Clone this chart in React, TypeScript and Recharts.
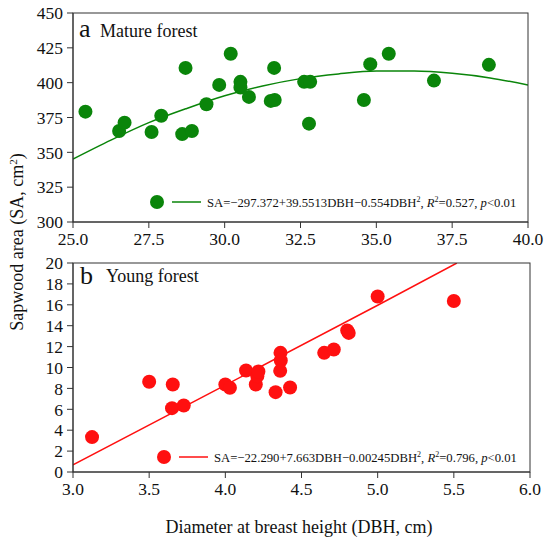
import React from 'react';
import { ComposedChart, Scatter, Line, XAxis, YAxis } from 'recharts';

// Mature forest (panel a)
const matureDBH = [25.41, 26.52, 26.70, 27.59, 27.91, 28.60, 28.71, 28.92, 29.40, 29.82, 30.20, 30.52, 30.52, 30.80, 31.52, 31.65, 31.63, 32.62, 32.82, 32.78, 34.59, 34.80, 35.41, 36.90, 38.71];
const matureSA = [379.2, 365.3, 371.3, 364.6, 376.3, 363.1, 410.6, 365.3, 384.5, 398.4, 420.7, 400.6, 396.5, 389.8, 386.9, 387.6, 410.6, 400.6, 400.6, 370.6, 387.6, 413.3, 420.7, 401.5, 412.8];
const matureFitDBH = [25, 26.25, 27.5, 28.75, 30, 31.25, 32.5, 33.75, 35, 36.25, 37.5, 38.75, 40];
const matureFitSA = [345.2, 358.8, 371.3, 381.5, 390.6, 397.6, 402.9, 406.3, 408.3, 408.3, 406.7, 403.4, 398.3];
const matureXTicks = [25, 27.5, 30, 32.5, 35, 37.5, 40];
const matureYTicks = [300, 325, 350, 375, 400, 425, 450];

// Young forest (panel b)
const youngDBH = [3.125, 3.50, 3.655, 3.65, 3.727, 4.00, 4.03, 4.136, 4.20, 4.21, 4.217, 4.33, 4.362, 4.364, 4.36, 4.425, 4.649, 4.712, 4.80, 4.81, 5.00, 5.50];
const youngSA = [3.34, 8.63, 8.38, 6.11, 6.37, 8.38, 8.06, 9.71, 8.38, 9.17, 9.62, 7.64, 11.4, 10.67, 9.68, 8.09, 11.4, 11.72, 13.54, 13.31, 16.8, 16.37];
const youngFitDBH = [3, 4, 5, 5.52];
const youngFitSA = [0.68, 8.32, 15.96, 20.0];
const youngXTicks = [3, 3.5, 4, 4.5, 5, 5.5, 6];
const youngYTicks = [0, 2, 4, 6, 8, 10, 12, 14, 16, 18, 20];

const GREEN = '#0a850a';
const RED = '#ff1010';
const AXIS = '#333333';
const SERIF = '"Liberation Serif", "Times New Roman", serif';

const maturePts = matureDBH.map((x, i) => ({ x, y: matureSA[i] }));
const matureFit = matureFitDBH.map((x, i) => ({ x, y: matureFitSA[i] }));
const youngPts = youngDBH.map((x, i) => ({ x, y: youngSA[i] }));
const youngFit = youngFitDBH.map((x, i) => ({ x, y: youngFitSA[i] }));

const tickStyle = { fontFamily: SERIF, fontSize: 17.5, fill: '#111' };

const dot = (color: string) => (props: any) => (
  <circle cx={props.cx} cy={props.cy} r={7} fill={color} />
);

const LegendEntry = ({ x, y, color, eq, r2 }: { x: number; y: number; color: string; eq: string; r2: string }) => (
  <g>
    <circle cx={x} cy={y} r={7} fill={color} />
    <line x1={x + 15} y1={y} x2={x + 44} y2={y} stroke={color} strokeWidth={1.5} />
    <text x={x + 50} y={y + 5} fontFamily={SERIF} fontSize={12.7} fill="#111">
      {eq}
      <tspan dy={-5} fontSize={8}>2</tspan>
      <tspan dy={5}>, </tspan>
      <tspan fontStyle="italic">R</tspan>
      <tspan dy={-5} fontSize={8}>2</tspan>
      <tspan dy={5}>={r2}, </tspan>
      <tspan fontStyle="italic">p</tspan>
      <tspan>{'<0.01'}</tspan>
    </text>
  </g>
);

export default function App() {
  return (
    <div style={{ position: 'absolute', left: 0, top: 0, width: 550, height: 542, background: '#fff' }}>
      <div style={{ position: 'absolute', left: 0, top: 0 }}>
        <ComposedChart width={550} height={250} margin={{ top: 13, right: 22, bottom: 0, left: 0 }}>
          <XAxis type="number" dataKey="x" domain={[25, 40]} ticks={matureXTicks} interval={0} tickFormatter={(v: number) => v.toFixed(1)}
            height={28} tick={tickStyle} tickMargin={5} stroke={AXIS} allowDataOverflow />
          <YAxis type="number" dataKey="y" domain={[300, 450]} ticks={matureYTicks} interval={0} width={73} tick={tickStyle} tickMargin={4} stroke={AXIS} allowDataOverflow />
          <Line data={matureFit} dataKey="y" type="monotone" stroke={GREEN} strokeWidth={1.5} dot={false} isAnimationActive={false} />
          <Scatter data={maturePts} fill={GREEN} shape={dot(GREEN)} isAnimationActive={false} />
        </ComposedChart>
      </div>
      <div style={{ position: 'absolute', left: 0, top: 250 }}>
        <ComposedChart width={550} height={292} margin={{ top: 13, right: 20, bottom: 0, left: 0 }}>
          <XAxis type="number" dataKey="x" domain={[3, 6]} ticks={youngXTicks} interval={0} tickFormatter={(v: number) => v.toFixed(1)}
            height={70} tick={tickStyle} tickMargin={5} stroke={AXIS} allowDataOverflow />
          <YAxis type="number" dataKey="y" domain={[0, 20]} ticks={youngYTicks} interval={0} width={73} tick={tickStyle} tickMargin={4} stroke={AXIS} allowDataOverflow />
          <Line data={youngFit} dataKey="y" type="linear" stroke={RED} strokeWidth={1.5} dot={false} isAnimationActive={false} />
          <Scatter data={youngPts} fill={RED} shape={dot(RED)} isAnimationActive={false} />
        </ComposedChart>
      </div>
      <svg width={550} height={542} style={{ position: 'absolute', left: 0, top: 0, pointerEvents: 'none' }}>
        <rect x={73} y={13} width={455} height={209} fill="none" stroke={AXIS} strokeWidth={1} />
        <rect x={73} y={263} width={457} height={209} fill="none" stroke={AXIS} strokeWidth={1} />
        <text x={79} y={37} fontFamily={SERIF} fontSize={26} fill="#111">a</text>
        <text x={100} y={37} fontFamily={SERIF} fontSize={18} fill="#111">Mature forest</text>
        <text x={80} y={284} fontFamily={SERIF} fontSize={26} fill="#111">b</text>
        <text x={106} y={282} fontFamily={SERIF} fontSize={18} fill="#111">Young forest</text>
        <LegendEntry x={157} y={202} color={GREEN} eq={'SA=\u2212297.372+39.5513DBH\u22120.554DBH'} r2="0.527" />
        <LegendEntry x={164} y={457} color={RED} eq={'SA=\u221222.290+7.663DBH\u22120.00245DBH'} r2="0.796" />
        <text x={23} y={242} transform="rotate(-90 23 242)" textAnchor="middle" fontFamily={SERIF} fontSize={18} fill="#111">
          Sapwood area (SA, cm<tspan dy={-6} fontSize={11}>2</tspan><tspan dy={6}>)</tspan>
        </text>
        <text x={299} y={533} textAnchor="middle" fontFamily={SERIF} fontSize={18} fill="#111">Diameter at breast height (DBH, cm)</text>
      </svg>
    </div>
  );
}
